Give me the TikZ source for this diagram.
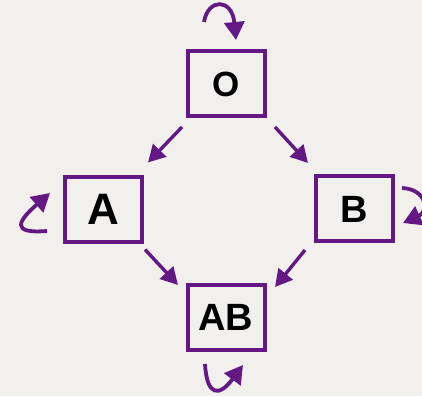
\documentclass[tikz,border=0pt]{standalone}
\usepackage{fontspec}
\setmainfont{Liberation Sans}
\usetikzlibrary{arrows.meta}
\definecolor{stateviolet}{RGB}{100,24,132}
\definecolor{paper}{RGB}{242,240,237}
\tikzset{
  statebox/.style={draw=stateviolet, line width=4pt, minimum width=77pt,
    minimum height=65pt, inner sep=0pt, font=\bfseries},
  flow/.style={draw=stateviolet, line width=3.4pt,
    -{Triangle[length=17pt,width=18pt]}},
  selfloop/.style={draw=stateviolet, line width=3.8pt,
    -{Triangle[length=18pt,width=20pt]}}
}
\begin{document}
\begin{tikzpicture}[x=1pt,y=1pt]
  \fill[paper] (0,0) rectangle (422,396);
  \useasboundingbox (0,0) rectangle (422,396);

  % states
  \node[statebox] (O)  at (226,312)   {\fontsize{35}{35}\selectfont O};
  \node[statebox] (A)  at (103,186.5) {\fontsize{44}{44}\selectfont A};
  \node[statebox] (B)  at (354.5,187) {\fontsize{38}{38}\selectfont B};
  \node[statebox] (AB) at (226,78.5)  {\fontsize{38}{38}\selectfont AB};

  % transitions
  \draw[flow] ([shift={(-44,-43)}]O.center) -- ([shift={(45,47)}]A.center);
  \draw[flow] ([shift={(49,-43)}]O.center) -- ([shift={(-46.5,46)}]B.center);
  \draw[flow] ([shift={(42,-40)}]A.center) -- ([shift={(-48,32.5)}]AB.center);
  \draw[flow] ([shift={(-49.5,-41)}]B.center) -- ([shift={(49,30.5)}]AB.center);

  % self-loops
  \coordinate (o1) at ([shift={(-22,62)}]O.center);
  \coordinate (o2) at ([shift={(10,44)}]O.center);
  \draw[selfloop] (o1) .. controls (208,398) and (232,398) .. (o2);

  \coordinate (a1) at ([shift={(-56,-21.5)}]A.center);
  \coordinate (a2) at ([shift={(-53,16.5)}]A.center);
  \draw[selfloop] (a1) .. controls (10,162) and (18,175) .. (a2);

  \coordinate (b1) at ([shift={(47.5,21)}]B.center);
  \coordinate (b2) at ([shift={(48.5,-14)}]B.center);
  \draw[selfloop] (b1) .. controls (426,207) and (430,185) .. (b2);

  \coordinate (ab1) at ([shift={(-21,-46.5)}]AB.center);
  \coordinate (ab2) at ([shift={(17,-47.5)}]AB.center);
  \draw[selfloop] (ab1) .. controls (207,-2) and (220,0) .. (ab2);
\end{tikzpicture}
\end{document}
